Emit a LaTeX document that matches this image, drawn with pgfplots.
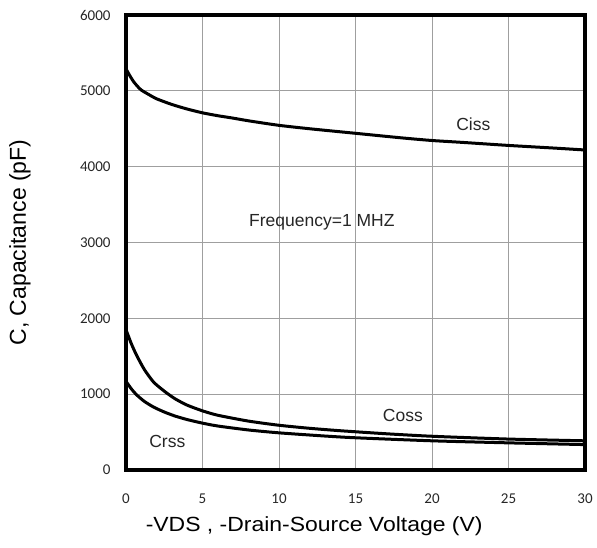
\documentclass[border=0pt]{standalone}
\usepackage{pgfplots}
\pgfplotsset{compat=1.18}
\usepackage{fontspec}
\setmainfont{Liberation Sans}
\newfontfamily\widesans[FakeStretch=1.12]{Liberation Sans}
\newfontfamily\carlito{Carlito}
\begin{document}
\begin{tikzpicture}
\begin{axis}[
  scale only axis,
  width=459pt, height=455pt,
  xmin=0, xmax=30, ymin=0, ymax=6000,
  xtick={0,5,...,30}, ytick={0,1000,...,6000},
  grid=major,
  major grid style={gray!75, line width=0.8pt},
  axis line style={black, line width=3.5pt},
  tick style={draw=none},
  major tick length=0pt,
  /pgf/number format/assume math mode=true,
  scaled y ticks=false,
  yticklabel style={/pgf/number format/fixed, /pgf/number format/1000 sep={}},
  tick label style={font=\carlito\fontsize{15}{16}\selectfont, text=black!85},
  xticklabel style={yshift=-20pt},
  yticklabel style={xshift=-12pt},
  xlabel={-VDS , -Drain-Source Voltage (V)},
  ylabel={C, Capacitance (pF)},
  xlabel style={font=\widesans\fontsize{20.5}{22}\selectfont, at={(axis description cs:0.41,-0.124)}, anchor=center},
  ylabel style={font=\fontsize{23}{24}\selectfont, at={(axis description cs:-0.231,0.5)}, anchor=center},
  clip=false,
]
\addplot[black, line width=3pt, smooth, tension=0.4] coordinates {
(0,5290)(0.25,5200)(0.5,5120)(0.75,5060)(1,5010)(1.5,4950)(2,4895)(3,4820)(4,4760)(5,4710)(6,4672)(7,4640)(8,4605)(10,4545)(12,4500)(15,4440)(18,4380)(20,4345)(22,4320)(25,4280)(28,4245)(30,4220)};
\addplot[black, line width=3pt, smooth, tension=0.4] coordinates {
(0,1850)(0.35,1665)(0.7,1510)(1.2,1325)(1.8,1160)(2.5,1040)(3.2,940)(4,855)(5,780)(6,722)(8,645)(10,590)(12,550)(14,518)(17,478)(20,445)(25,408)(30,385)};
\addplot[black, line width=3pt, smooth, tension=0.4] coordinates {
(0,1170)(0.35,1070)(0.7,990)(1.2,905)(1.8,830)(2.5,765)(3.2,712)(4,665)(5,618)(6,580)(8,528)(10,490)(13,448)(15,425)(20,385)(25,358)(30,335)};
\node[font=\fontsize{17.5}{18}\selectfont, text=black!85] at (axis cs:22.7,4560) {Ciss};
\node[font=\fontsize{17.5}{18}\selectfont, text=black!85] at (axis cs:18.1,725) {Coss};
\node[font=\fontsize{17.5}{18}\selectfont, text=black!85] at (axis cs:2.7,380) {Crss};
\node[font=\fontsize{17.5}{18}\selectfont, text=black!85] at (axis cs:12.8,3260) {Frequency=1 MHZ};
\end{axis}
\path ([shift={(-126pt,-77pt)}]current axis.south west) rectangle ([shift={(12pt,15pt)}]current axis.north east);
\end{tikzpicture}
\end{document}
